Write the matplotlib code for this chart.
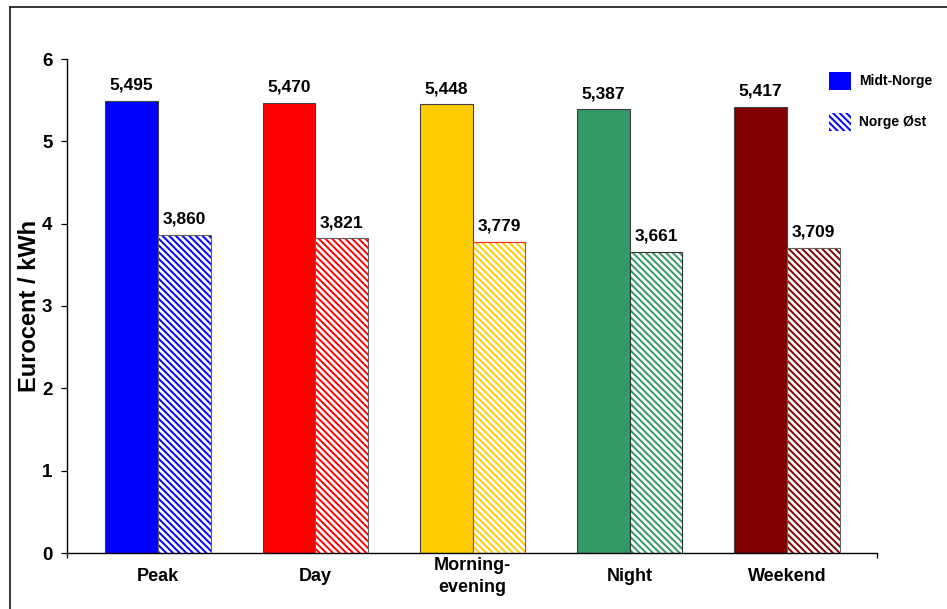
import matplotlib
matplotlib.use("Agg")
import matplotlib.pyplot as plt
from matplotlib.patches import Patch
from matplotlib.lines import Line2D
import numpy as np

categories = ["Peak", "Day", "Morning-\nevening", "Night", "Weekend"]
midt_norge = [5.495, 5.470, 5.448, 5.387, 5.417]
norge_ost = [3.860, 3.821, 3.779, 3.661, 3.709]
series_names = ["Midt-Norge", "Norge Øst"]
bar_colors = ["#0000FF", "#FF0000", "#FFCC00", "#339966", "#800000"]
hatch_edges = ["#606060", "#606060", "#FF2020", "#303030", "#606060"]
y_ticks = [0, 1, 2, 3, 4, 5, 6]

plt.rcParams["font.family"] = ["Liberation Sans", "DejaVu Sans"]
plt.rcParams["font.weight"] = "bold"
plt.rcParams["hatch.linewidth"] = 1.4

HATCH = "\\" * 5

W, H = 947, 609
fig = plt.figure(figsize=(W / 100, H / 100), dpi=100)
ax = fig.add_axes([67 / W, 1 - 553 / H, 810 / W, 494 / H])

x = np.arange(len(categories))
width = 0.335

def fmt(v):
    return f"{v:.3f}".replace(".", ",")

for i in x:
    # solid bar
    ax.bar(i - width / 2, midt_norge[i], width, color=bar_colors[i],
           edgecolor="#404040", linewidth=0.8, zorder=2)
    # hatched bar: hatch drawn in the series colour, outline drawn on top
    ax.bar(i + width / 2, norge_ost[i], width, facecolor="white",
           edgecolor=bar_colors[i], hatch=HATCH, linewidth=0, zorder=2)
    ax.bar(i + width / 2, norge_ost[i], width, fill=False,
           edgecolor=hatch_edges[i], linewidth=0.8, zorder=3)
    ax.annotate(fmt(midt_norge[i]), (i - width / 2, midt_norge[i]),
                xytext=(0, 6), textcoords="offset points",
                ha="center", va="bottom", fontsize=12.5, fontweight="bold")
    ax.annotate(fmt(norge_ost[i]), (i + width / 2, norge_ost[i]),
                xytext=(0, 6), textcoords="offset points",
                ha="center", va="bottom", fontsize=12.5, fontweight="bold")

ax.set_xlim(-0.579, 4.572)
ax.set_ylim(0, 6)
ax.set_yticks(y_ticks)
ax.set_yticklabels([str(t) for t in y_ticks], fontsize=13.5, fontweight="bold")
ax.tick_params(axis="y", direction="out", length=4.5, width=0.9, pad=6)

ax.set_xticks(x)
ax.set_xticklabels(categories, fontsize=13, fontweight="bold",
                   linespacing=1.4, va="center")
ax.tick_params(axis="x", which="major", length=0, pad=17)
ax.set_xticks([-0.579, 4.572], minor=True)
ax.tick_params(axis="x", which="minor", direction="out", length=3.5, width=0.9)

for side in ["top", "right"]:
    ax.spines[side].set_visible(False)
for side in ["left", "bottom"]:
    ax.spines[side].set_linewidth(1.0)
    ax.spines[side].set_color("black")

ax.set_ylabel("Eurocent / kWh", fontsize=17, fontweight="bold", va="center")
ax.yaxis.set_label_coords(-0.0457, 0.5)

handles = [Patch(facecolor="#0000FF", edgecolor="#0000FF", linewidth=0),
           Patch(facecolor="white", edgecolor="#0000FF", hatch=HATCH, linewidth=0)]
leg = ax.legend(handles, series_names, loc="upper left",
                bbox_to_anchor=(829 / W, 1 - 72 / H),
                bbox_transform=fig.transFigure, frameon=False,
                prop={"size": 10, "weight": "bold"},
                handlelength=1.6, handleheight=1.6, handletextpad=0.55,
                labelspacing=1.65, borderpad=0, borderaxespad=0)

# outer frame around the chart area
fig.add_artist(Line2D([10 / W, 10 / W], [0, 1 - 7 / H], color="black",
                      linewidth=1.1, transform=fig.transFigure))
fig.add_artist(Line2D([10 / W, 1], [1 - 7 / H, 1 - 7 / H], color="black",
                      linewidth=1.1, transform=fig.transFigure))

fig.savefig("out.png", dpi=100)
